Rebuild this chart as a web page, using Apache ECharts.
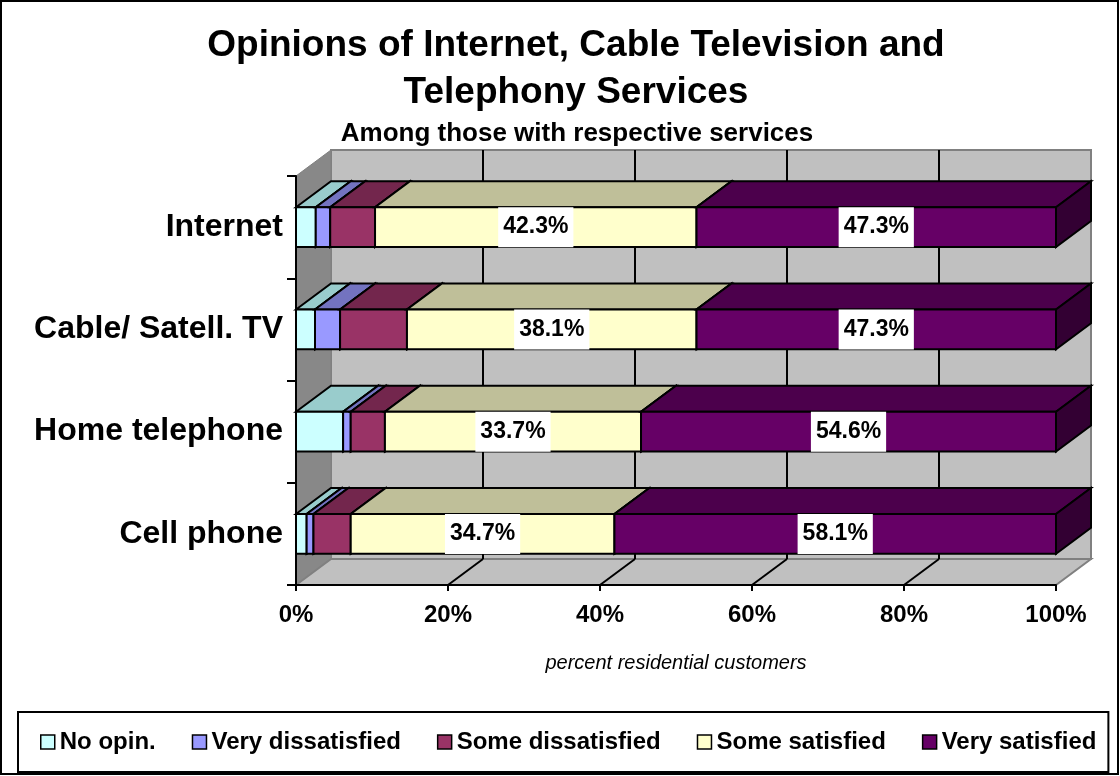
<!DOCTYPE html>
<html><head><meta charset="utf-8">
<script src="https://cdn.jsdelivr.net/npm/echarts@6/dist/echarts.min.js"></script>
<style>html,body{margin:0;padding:0;background:#fff}#c{width:1120px;height:776px}</style>
</head><body><div id="c"></div>
<script>
// ---- data ----
const categories = ['Internet', 'Cable/ Satell. TV', 'Home telephone', 'Cell phone'];
const seriesNames = ['No opin.', 'Very dissatisfied', 'Some dissatisfied', 'Some satisfied', 'Very satisfied'];
const noOpinion        = [2.6, 2.5, 6.2, 1.4];
const veryDissatisfied = [1.9, 3.3, 1.0, 0.9];
const someDissatisfied = [5.9, 8.8, 4.5, 4.9];
const someSatisfied    = [42.3, 38.1, 33.7, 34.7];
const verySatisfied    = [47.3, 47.3, 54.6, 58.1];
const xTickValues = [0, 20, 40, 60, 80, 100];
const labeledSeries = [3, 4];

// ---- styles ----
const FONT = "'Liberation Sans', Arial, sans-serif";
const DX = 35, DY = -26;       // 3D depth offset in pixels
const BAR_RATIO = 0.39;
const palette = [
  {front: '#CCFFFF', top: '#99CCCC', side: '#669999'},
  {front: '#9999FF', top: '#7373C0', side: '#4D4D80'},
  {front: '#993366', top: '#73264D', side: '#4D1933'},
  {front: '#FFFFCC', top: '#BFBF99', side: '#808066'},
  {front: '#660066', top: '#4C004C', side: '#330033'}
];

const allValues = [noOpinion, veryDissatisfied, someDissatisfied, someSatisfied, verySatisfied];

// stacked start/end built from the arrays
const cum = categories.map(() => 0);
const stackedData = allValues.map(arr => arr.map((v, i) => {
  const s = cum[i]; cum[i] += v; return [i, s, cum[i], v];
}));

function wallsRender(params, api) {
  const cs = params.coordSys;
  const x = cs.x, y = cs.y, w = cs.width, h = cs.height;
  const children = [];
  children.push({type: 'rect', shape: {x: x + DX, y: y + DY, width: w, height: h},
    style: {fill: '#C0C0C0', stroke: '#808080', lineWidth: 2}});
  children.push({type: 'polygon', shape: {points: [[x, y], [x + DX, y + DY], [x + DX, y + h + DY], [x, y + h]]},
    style: {fill: '#888888', stroke: '#808080', lineWidth: 1}});
  children.push({type: 'polygon', shape: {points: [[x, y + h], [x + DX, y + h + DY], [x + w + DX, y + h + DY], [x + w, y + h]]},
    style: {fill: '#C0C0C0', stroke: '#808080', lineWidth: 2}});
  xTickValues.forEach(t => {
    const px = api.coord([t, 0])[0];
    if (t > 0 && t < 100) {
      children.push({type: 'line', shape: {x1: px + DX, y1: y + DY, x2: px + DX, y2: y + h + DY},
        style: {stroke: '#000', lineWidth: 2}});
      children.push({type: 'line', shape: {x1: px, y1: y + h, x2: px + DX, y2: y + h + DY},
        style: {stroke: '#000', lineWidth: 2}});
    }
  });
  return {type: 'group', children};
}

function barRender(si) {
  return function (params, api) {
    const cat = api.value(0), s = api.value(1), e = api.value(2), v = api.value(3);
    const p0 = api.coord([s, cat]), p1 = api.coord([e, cat]);
    const band = api.size([0, 1])[1];
    const h = band * BAR_RATIO;
    const yT = p0[1] - h / 2, yB = yT + h;
    const x0 = p0[0], x1 = p1[0];
    const c = palette[si];
    const ls = {stroke: '#000', lineWidth: 2, lineJoin: 'miter'};
    const children = [
      {type: 'polygon', shape: {points: [[x0, yT], [x0 + DX, yT + DY], [x1 + DX, yT + DY], [x1, yT]]},
        style: Object.assign({fill: c.top}, ls)},
      {type: 'polygon', shape: {points: [[x1, yT], [x1 + DX, yT + DY], [x1 + DX, yB + DY], [x1, yB]]},
        style: Object.assign({fill: c.side}, ls)},
      {type: 'rect', shape: {x: x0, y: yT, width: x1 - x0, height: h},
        style: Object.assign({fill: c.front}, ls)}
    ];
    if (labeledSeries.indexOf(si) >= 0) {
      children.push({type: 'text', z2: 10, style: {
        text: v.toFixed(1) + '%', x: (x0 + x1) / 2, y: (yT + yB) / 2,
        align: 'center', verticalAlign: 'middle',
        font: 'bold 23px ' + FONT, fill: '#000',
        backgroundColor: '#fff', padding: [9, 5, 8, 5]
      }});
    }
    return {type: 'group', children};
  };
}

const series = [{
  type: 'custom', name: '_walls', z: 1, silent: true,
  renderItem: wallsRender, data: [[0]], encode: {x: 0}
}];
seriesNames.forEach((n, si) => {
  series.push({
    type: 'custom', name: n, z: 2,
    itemStyle: {color: palette[si].front, borderColor: '#000', borderWidth: 1.5},
    renderItem: barRender(si),
    encode: {x: [1, 2], y: 0},
    data: stackedData[si]
  });
});

const chart = echarts.init(document.getElementById('c'), null, {renderer: 'canvas'});
chart.setOption({
  backgroundColor: '#fff',
  animation: false,
  title: [{
    text: 'Opinions of Internet, Cable Television and\nTelephony Services',
    left: 571, top: 17, textAlign: 'center',
    textStyle: {fontFamily: FONT, fontSize: 37, fontWeight: 'bold', color: '#000', lineHeight: 47}
  }, {
    text: 'Among those with respective services',
    left: 572, top: 116, textAlign: 'center',
    textStyle: {fontFamily: FONT, fontSize: 26, fontWeight: 'bold', color: '#000'}
  }],
  grid: {left: 296, right: 64, top: 176, bottom: 191, containLabel: false},
  xAxis: {
    type: 'value', min: 0, max: 100, interval: 20, z: 10,
    name: 'percent residential customers', nameLocation: 'middle', nameGap: 68,
    nameTextStyle: {fontFamily: FONT, fontSize: 20, fontStyle: 'italic', color: '#000'},
    axisLine: {show: true, lineStyle: {color: '#000', width: 2}},
    axisTick: {show: true, length: 6, lineStyle: {color: '#000', width: 2}},
    axisLabel: {formatter: '{value}%', margin: 18, fontFamily: FONT, fontSize: 24, fontWeight: 'bold', color: '#000'},
    splitLine: {show: false}
  },
  yAxis: {
    type: 'category', data: categories, inverse: true, z: 10,
    axisLine: {show: true, lineStyle: {color: '#000', width: 2}},
    axisTick: {show: true, length: 9, lineStyle: {color: '#000', width: 2}},
    axisLabel: {margin: 13, fontFamily: FONT, fontSize: 32, fontWeight: 'bold', color: '#000'},
    splitLine: {show: false}
  },
  legend: {
    data: seriesNames, left: 18, top: 712,
    icon: 'rect', itemWidth: 14, itemHeight: 14, itemGap: 36, itemTextGap: 5,
    padding: [18, 12, 18, 22], borderColor: '#000', borderWidth: 2,
    itemStyle: {borderColor: '#000', borderWidth: 1.5},
    textStyle: {fontFamily: FONT, fontSize: 24, fontWeight: 'bold', color: '#000'}
  },
  graphic: [{
    type: 'rect', silent: true, z: 100,
    shape: {x: 1, y: 1, width: 1117, height: 773},
    style: {fill: null, stroke: '#000', lineWidth: 2}
  }],
  series
});
</script>
</body></html>
